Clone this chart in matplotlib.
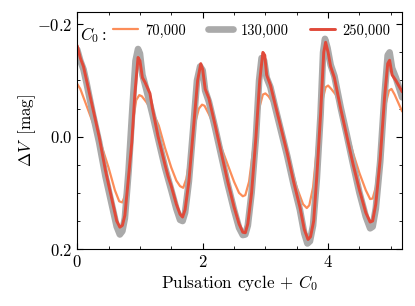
import matplotlib
matplotlib.use('Agg')
import matplotlib.pyplot as plt
from matplotlib.ticker import MultipleLocator

plt.rcParams['font.family'] = 'serif'
plt.rcParams['font.serif'] = ['cmr10']
plt.rcParams['mathtext.fontset'] = 'cm'
plt.rcParams['axes.formatter.use_mathtext'] = True
plt.rcParams['axes.unicode_minus'] = True

# C0 = 70,000
x_70k = [0.00, 0.05, 0.10, 0.20, 0.30, 0.40, 0.50, 0.60, 0.67, 0.72, 0.76, 0.82, 0.88, 0.94, 0.99,
         1.03, 1.10, 1.20, 1.30, 1.40, 1.50, 1.58, 1.64, 1.69, 1.74, 1.80, 1.87, 1.94, 1.99,
         2.03, 2.10, 2.20, 2.30, 2.40, 2.50, 2.58, 2.64, 2.68, 2.74, 2.82, 2.90, 2.96, 3.00,
         3.05, 3.12, 3.20, 3.30, 3.40, 3.50, 3.60, 3.66, 3.70, 3.76, 3.83, 3.90, 3.96, 4.00,
         4.05, 4.12, 4.20, 4.30, 4.40, 4.50, 4.60, 4.67, 4.71, 4.76, 4.83, 4.90, 4.97, 5.01,
         5.06, 5.18]
y_70k = [-0.094, -0.085, -0.070, -0.040, -0.010, 0.020, 0.055, 0.095, 0.115, 0.117, 0.105, 0.050, -0.020, -0.065, -0.074,
         -0.072, -0.062, -0.045, -0.020, 0.020, 0.055, 0.078, 0.088, 0.091, 0.075, 0.035, -0.020, -0.050, -0.057,
         -0.055, -0.040, -0.015, 0.020, 0.050, 0.080, 0.100, 0.106, 0.104, 0.080, 0.010, -0.050, -0.075, -0.077,
         -0.072, -0.060, -0.030, 0.010, 0.050, 0.090, 0.120, 0.127, 0.122, 0.090, 0.010, -0.060, -0.088, -0.091,
         -0.085, -0.075, -0.050, -0.010, 0.030, 0.065, 0.095, 0.111, 0.110, 0.090, 0.020, -0.050, -0.082, -0.085,
         -0.075, -0.045]

# C0 = 130,000
x_130k = [0.00, 0.05, 0.10, 0.15, 0.25, 0.35, 0.45, 0.55, 0.63, 0.68, 0.72, 0.76, 0.82, 0.88, 0.93, 0.97,
          1.00, 1.04, 1.10, 1.20, 1.30, 1.40, 1.50, 1.58, 1.64, 1.68, 1.72, 1.78, 1.85, 1.91, 1.96,
          2.00, 2.04, 2.10, 2.20, 2.30, 2.40, 2.50, 2.58, 2.64, 2.68, 2.72, 2.78, 2.85, 2.90, 2.94,
          2.98, 3.02, 3.08, 3.15, 3.25, 3.35, 3.45, 3.55, 3.62, 3.67, 3.71, 3.76, 3.82, 3.88, 3.92, 3.95,
          3.99, 4.04, 4.10, 4.20, 4.30, 4.40, 4.50, 4.60, 4.67, 4.71, 4.76, 4.83, 4.90, 4.95, 4.98,
          5.02, 5.08, 5.18]
y_130k = [-0.155, -0.135, -0.120, -0.095, -0.040, 0.010, 0.070, 0.120, 0.160, 0.174, 0.168, 0.145, 0.060, -0.050, -0.135, -0.156,
          -0.148, -0.110, -0.085, -0.040, 0.008, 0.055, 0.095, 0.128, 0.148, 0.150, 0.135, 0.080, -0.015, -0.100, -0.125,
          -0.118, -0.082, -0.062, -0.015, 0.035, 0.085, 0.130, 0.162, 0.175, 0.174, 0.158, 0.100, 0.000, -0.100, -0.140,
          -0.135, -0.105, -0.088, -0.055, -0.010, 0.035, 0.085, 0.130, 0.172, 0.190, 0.186, 0.158, 0.075, -0.040, -0.150, -0.174,
          -0.158, -0.128, -0.108, -0.052, -0.002, 0.050, 0.100, 0.142, 0.163, 0.160, 0.128, 0.045, -0.075, -0.145, -0.150,
          -0.122, -0.105, -0.070]

# C0 = 250,000
x_250k = [0.00, 0.05, 0.10, 0.15, 0.25, 0.35, 0.45, 0.55, 0.63, 0.68, 0.72, 0.76, 0.82, 0.87, 0.92, 0.97,
          1.00, 1.04, 1.08, 1.16, 1.20, 1.29, 1.40, 1.45, 1.50, 1.58, 1.64, 1.68, 1.72, 1.78, 1.85, 1.92, 1.97,
          2.00, 2.04, 2.10, 2.20, 2.30, 2.40, 2.50, 2.58, 2.64, 2.68, 2.72, 2.78, 2.85, 2.91, 2.96,
          2.99, 3.02, 3.08, 3.15, 3.25, 3.35, 3.45, 3.55, 3.62, 3.68, 3.72, 3.77, 3.82, 3.88, 3.93, 3.96,
          4.00, 4.04, 4.10, 4.20, 4.30, 4.40, 4.50, 4.60, 4.67, 4.71, 4.76, 4.83, 4.90, 4.95, 4.98,
          5.02, 5.08, 5.18]
y_250k = [-0.162, -0.140, -0.125, -0.100, -0.050, 0.000, 0.060, 0.110, 0.150, 0.161, 0.158, 0.140, 0.070, 0.011, -0.077, -0.141,
          -0.135, -0.105, -0.097, -0.077, -0.050, 0.000, 0.050, 0.071, 0.088, 0.120, 0.138, 0.143, 0.130, 0.080, -0.010, -0.100, -0.130,
          -0.120, -0.085, -0.068, -0.020, 0.030, 0.080, 0.125, 0.155, 0.170, 0.171, 0.155, 0.100, 0.000, -0.100, -0.150,
          -0.145, -0.110, -0.092, -0.060, -0.015, 0.030, 0.080, 0.125, 0.165, 0.183, 0.178, 0.150, 0.070, -0.040, -0.150, -0.168,
          -0.150, -0.125, -0.105, -0.050, 0.000, 0.050, 0.095, 0.135, 0.152, 0.150, 0.120, 0.040, -0.070, -0.130, -0.136,
          -0.110, -0.100, -0.080]

labels = ['70,000', '130,000', '250,000']
colors = ['#fc8d59', '#aaaaaa', '#e04a3a']
widths = [1.6, 4.8, 2.1]


def main():
    fig = plt.figure(figsize=(4.15, 3.06), dpi=100)
    ax = fig.add_axes([0.186, 0.186, 0.783, 0.775])

    series = [(x_70k, y_70k), (x_130k, y_130k), (x_250k, y_250k)]
    for (xs, ys), lab, col, lw in zip(series, labels, colors, widths):
        ax.plot(xs, ys, color=col, lw=lw, label=lab, solid_capstyle='round',
                solid_joinstyle='round')

    ax.set_xlim(0, 5.18)
    ax.set_ylim(0.2, -0.222)
    ax.xaxis.set_major_locator(MultipleLocator(2))
    ax.xaxis.set_minor_locator(MultipleLocator(0.5))
    ax.yaxis.set_major_locator(MultipleLocator(0.2))
    ax.yaxis.set_minor_locator(MultipleLocator(0.05))
    ax.tick_params(which='both', direction='in', top=True, right=True, labelsize=12)
    ax.tick_params(which='major', length=4)
    ax.tick_params(which='minor', length=2)

    ax.set_xlabel(r'Pulsation cycle + $C_0$', fontsize=12.3, labelpad=2)
    ax.set_ylabel(r'$\Delta V\,$ [mag]', fontsize=12.3, labelpad=-1)

    ax.text(0.01, 0.945, r'$C_0:$', transform=ax.transAxes, fontsize=12, va='top', ha='left')
    ax.legend(loc='upper right', ncol=3, frameon=False, fontsize=10.4, handlelength=1.75,
              handletextpad=0.5, columnspacing=1.5, borderaxespad=0.45, borderpad=0.35)

    fig.savefig('out.png', dpi=100)


if __name__ == '__main__':
    main()
